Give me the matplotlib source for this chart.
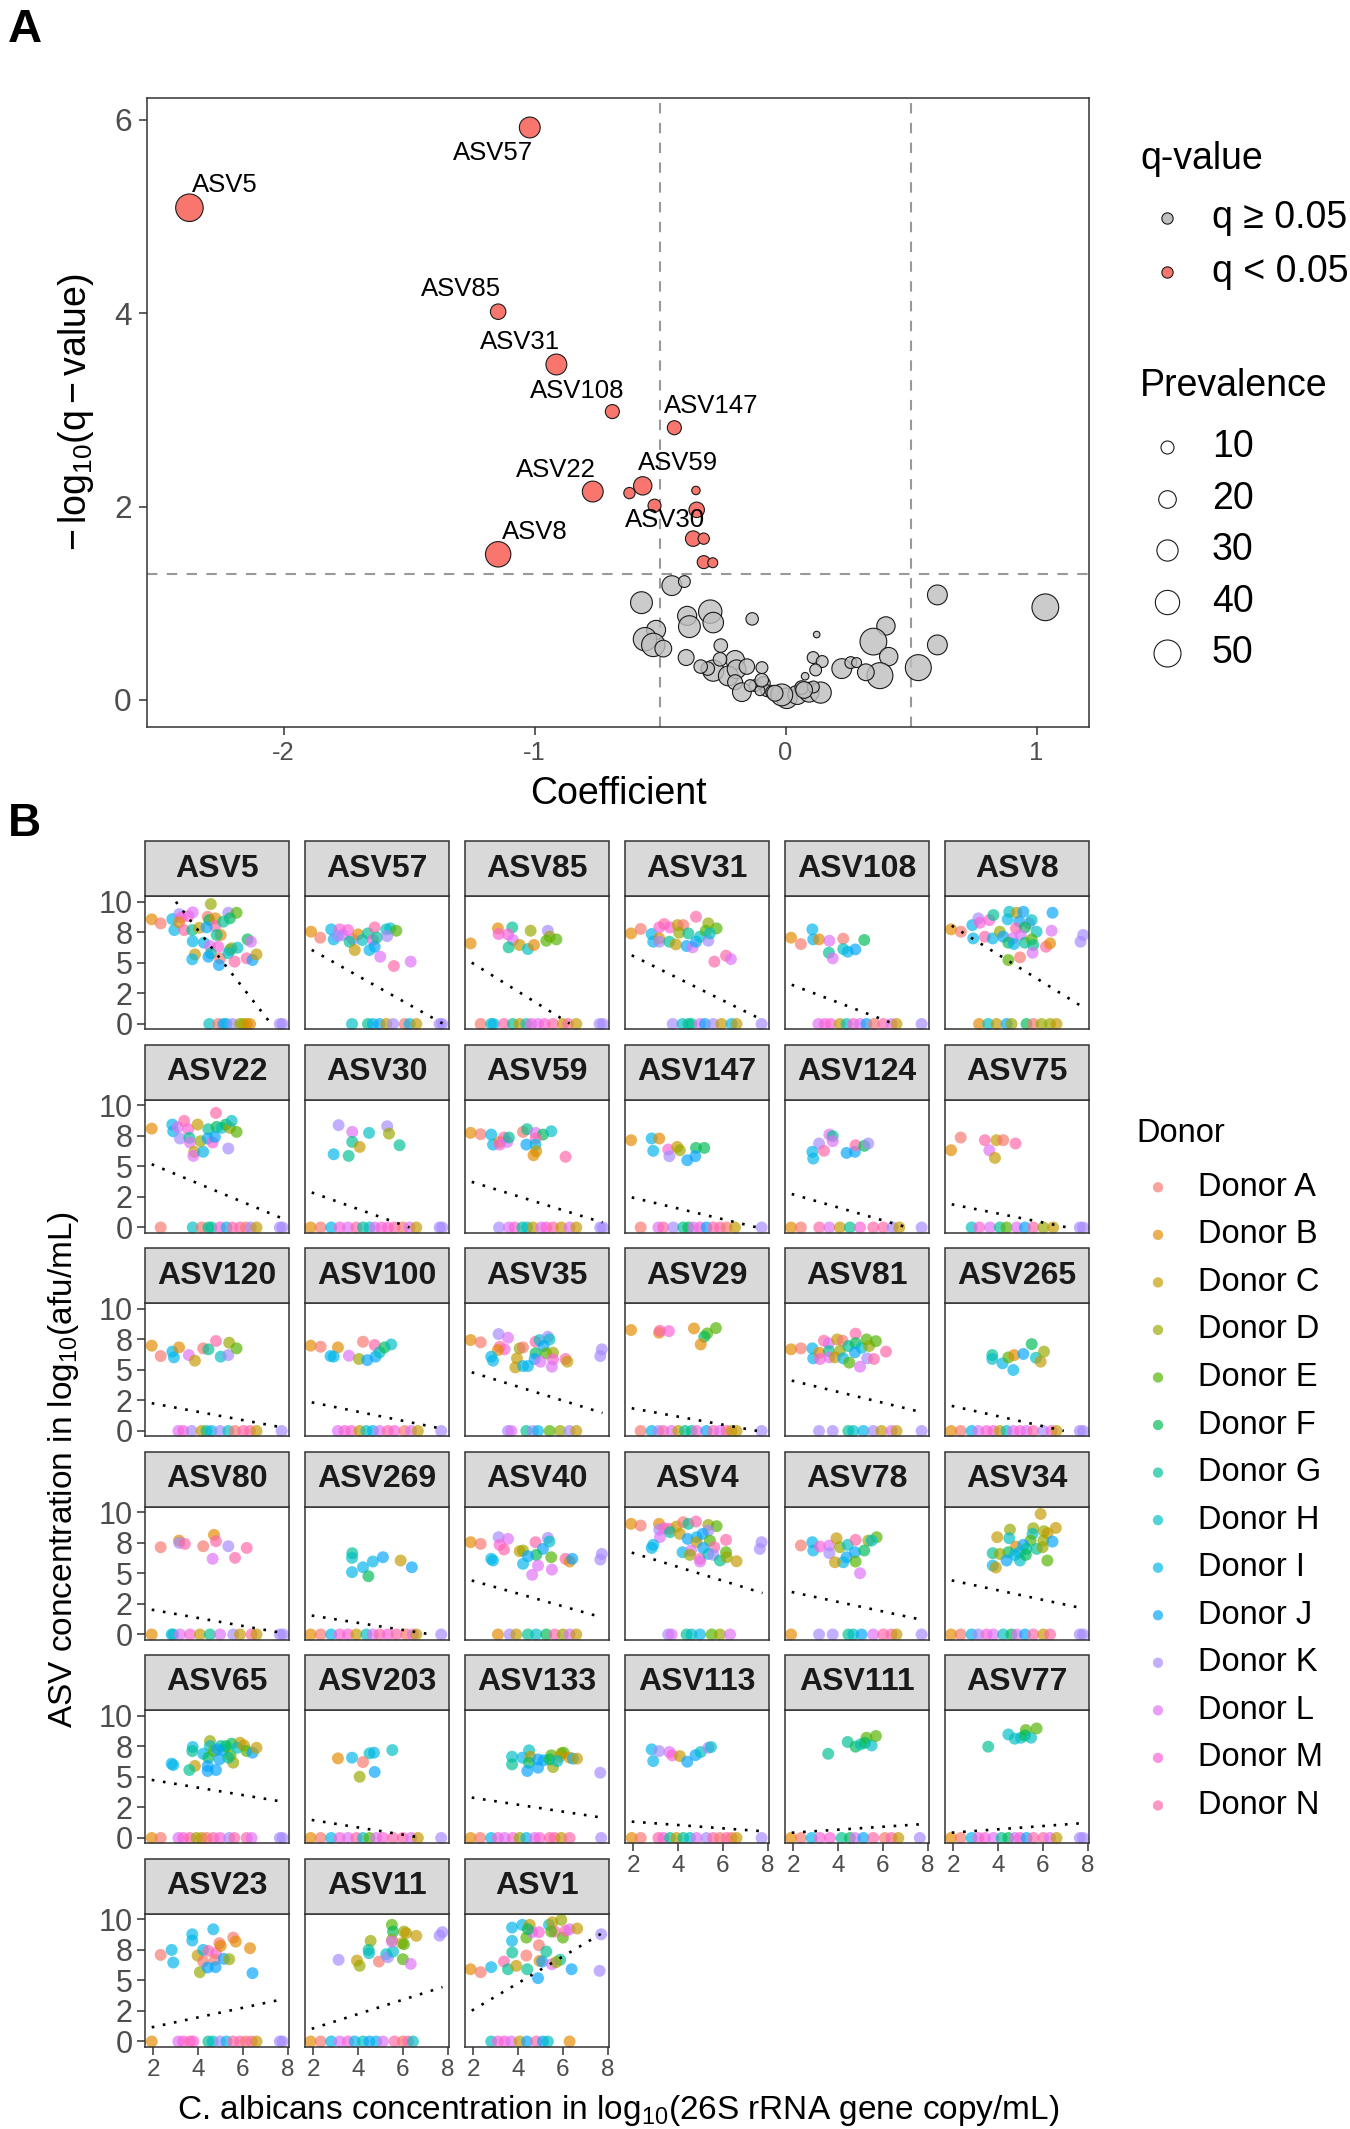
import numpy as np
import matplotlib
matplotlib.use('Agg')
import matplotlib.pyplot as plt
from matplotlib.patches import Rectangle

plt.rcParams['font.family'] = ['Liberation Sans', 'DejaVu Sans']
plt.rcParams['mathtext.fontset'] = 'custom'
plt.rcParams['mathtext.rm'] = 'Liberation Sans'
plt.rcParams['mathtext.it'] = 'Liberation Sans:italic'
plt.rcParams['mathtext.bf'] = 'Liberation Sans:bold'
plt.rcParams['mathtext.default'] = 'regular'

# ---------------- panel A data ----------------
sig_coef = [-2.375, -1.019, -1.145, -0.913, -0.690, -0.443, -0.768, -0.569, -0.622,
            -0.522, -0.357, -0.354, -0.368, -0.326, -0.326, -0.290, -1.145]
sig_logq = [5.09, 5.92, 4.015, 3.469, 2.982, 2.815, 2.155, 2.214, 2.139,
            2.009, 2.166, 1.966, 1.668, 1.668, 1.425, 1.419, 1.506]
sig_prev = [52, 29, 15, 29, 12, 12, 29, 22, 7, 10, 3, 15, 15, 7, 10, 5, 44]

ns_coef = [-0.453, -0.403, -0.574, -0.392, -0.300, -0.383, -0.288, -0.133, -0.516, -0.560,
           -0.527, -0.487, -0.396, -0.258, 0.124, 0.400, 0.350, 0.411, 0.605, 0.605,
           0.529, 1.035, 0.376, 0.320, 0.224, 0.260, 0.110, 0.146, 0.120, 0.078,
           -0.094, -0.201, -0.288, -0.228, -0.195, -0.310, -0.201, -0.174, -0.121, -0.088,
           -0.075, -0.052, 0.005, 0.047, 0.094, 0.140, 0.064, 0.111, -0.102, -0.141,
           -0.261, -0.338, -0.154, -0.015, -0.042, 0.074, -0.095, 0.283]
ns_logq = [1.182, 1.224, 1.006, 0.869, 0.913, 0.758, 0.800, 0.838, 0.724, 0.628,
           0.569, 0.531, 0.438, 0.562, 0.676, 0.765, 0.603, 0.448, 1.086, 0.569,
           0.334, 0.958, 0.251, 0.286, 0.324, 0.386, 0.438, 0.397, 0.310, 0.245,
           0.334, 0.414, 0.303, 0.248, 0.317, 0.324, 0.183, 0.080, 0.148, 0.172,
           0.096, 0.080, 0.017, 0.052, 0.080, 0.076, 0.128, 0.134, 0.096, 0.148,
           0.420, 0.345, 0.345, 0.052, 0.069, 0.103, 0.204, 0.386]
ns_prev = [26, 8, 32, 24, 37, 32, 28, 9, 24, 37,
           37, 18, 16, 11, 1, 22, 49, 22, 26, 26,
           46, 49, 46, 18, 26, 8, 8, 8, 8, 2,
           8, 23, 30, 26, 23, 11, 14, 23, 8, 11,
           8, 11, 28, 24, 26, 30, 11, 8, 5, 8,
           11, 11, 15, 32, 16, 18, 11, 5]

label_names = ['ASV5', 'ASV57', 'ASV85', 'ASV31', 'ASV108', 'ASV147', 'ASV22', 'ASV59', 'ASV30', 'ASV8']
label_x = [-2.235, -1.165, -1.293, -1.059, -0.832, -0.298, -0.913, -0.430, -0.480, -1.000]
label_y = [5.33, 5.66, 4.25, 3.70, 3.19, 3.04, 2.38, 2.45, 1.86, 1.74]

prev_breaks = [10, 20, 30, 40, 50]

# ---------------- panel B data ----------------
donors = list('ABCDEFGHIJKLMN')
donor_colors = ['#F8766D', '#E38900', '#C49A00', '#99A800', '#53B400', '#00BC56', '#00C094',
                '#00BFC4', '#00B6EB', '#06A4FF', '#A58AFF', '#DF70F8', '#FB61D7', '#FF66A8']

panel_order = ['ASV5', 'ASV57', 'ASV85', 'ASV31', 'ASV108', 'ASV8',
               'ASV22', 'ASV30', 'ASV59', 'ASV147', 'ASV124', 'ASV75',
               'ASV120', 'ASV100', 'ASV35', 'ASV29', 'ASV81', 'ASV265',
               'ASV80', 'ASV269', 'ASV40', 'ASV4', 'ASV78', 'ASV34',
               'ASV65', 'ASV203', 'ASV133', 'ASV113', 'ASV111', 'ASV77',
               'ASV23', 'ASV11', 'ASV1']
fit_intercept = [17.07, 8.05, 7.22, 7.37, 4.56, 10.24,
                 6.64, 4.13, 4.83, 3.31, 3.76, 2.60,
                 2.93, 3.06, 5.90, 2.50, 4.98, 2.84,
                 2.66, 2.11, 5.42, 7.79, 4.23, 5.18,
                 5.34, 2.05, 3.85, 1.60, 0.20, 0.18,
                 0.40, -0.09, 0.42]
fit_slope = [-2.35, -1.03, -1.14, -0.907, -0.70, -1.138,
             -0.76, -0.655, -0.569, -0.439, -0.53, -0.365,
             -0.34, -0.371, -0.569, -0.331, -0.445, -0.408,
             -0.327, -0.29, -0.519, -0.566, -0.391, -0.391,
             -0.305, -0.297, -0.282, -0.135, 0.12, 0.133,
             0.393, 0.584, 1.089]

asv5_pts = [(1.93, 8.56, 'B'), (2.33, 8.23, 'A'), (2.85, 8.58, 'I'), (2.94, 7.68, 'I'), (3.16, 8.99, 'K'),
            (3.26, 8.72, 'M'), (3.56, 8.83, 'M'), (3.76, 9.13, 'L'), (3.15, 8.31, 'B'), (3.38, 7.68, 'N'),
            (3.74, 7.68, 'G'), (4.05, 7.87, 'C'), (3.76, 6.76, 'I'), (4.26, 6.65, 'I'), (3.86, 5.69, 'C'),
            (3.74, 5.29, 'I'), (4.57, 9.81, 'D'), (4.43, 8.77, 'A'), (4.50, 8.50, 'F'), (4.77, 8.64, 'B'),
            (4.77, 8.01, 'N'), (4.38, 7.90, 'J'), (5.01, 7.28, 'B'), (4.83, 7.28, 'G'), (4.53, 6.38, 'L'),
            (4.90, 6.32, 'M'), (4.57, 5.78, 'G'), (4.46, 5.50, 'J'), (4.98, 5.37, 'A'), (4.93, 4.82, 'J'),
            (5.35, 9.10, 'K'), (5.72, 9.10, 'E'), (5.42, 8.64, 'F'), (5.13, 8.37, 'G'), (5.42, 6.05, 'G'),
            (5.50, 6.19, 'D'), (5.76, 6.24, 'H'), (5.35, 5.78, 'H'), (5.63, 5.10, 'N'), (6.21, 6.92, 'F'),
            (6.36, 6.73, 'L'), (6.17, 5.37, 'N'), (6.43, 5.23, 'J'), (6.61, 5.69, 'C')]
asv5_zero = [(4.50, 'H'), (4.90, 'A'), (5.13, 'J'), (5.27, 'I'), (5.54, 'K'), (5.87, 'D'),
             (6.02, 'D'), (6.17, 'C'), (6.32, 'B'), (7.65, 'K'), (7.77, 'K')]

asv57_pts = [(1.90, 7.55, 'B'), (2.31, 7.06, 'A'), (2.80, 7.74, 'I'), (2.91, 6.92, 'I'), (3.18, 7.74, 'M'),
             (3.55, 7.68, 'M'), (3.32, 7.28, 'L'), (3.10, 7.19, 'K'), (3.77, 6.92, 'L'), (3.62, 6.73, 'G'),
             (3.85, 6.05, 'C'), (4.00, 7.33, 'B'), (4.19, 6.87, 'H'), (4.44, 7.41, 'G'), (4.74, 7.90, 'N'),
             (4.66, 6.87, 'M'), (4.74, 6.32, 'J'), (4.99, 5.50, 'L'), (4.84, 7.08, 'G'), (5.26, 7.74, 'H'),
             (5.44, 7.82, 'H'), (5.71, 7.63, 'E'), (5.30, 7.19, 'K'), (4.51, 6.05, 'I'), (5.60, 4.74, 'N'),
             (6.35, 5.10, 'L')]
asv57_zero = [(3.73, 'H'), (4.44, 'G'), (4.66, 'I'), (4.96, 'J'), (5.26, 'C'), (5.56, 'K'),
              (6.08, 'A'), (6.30, 'I'), (6.60, 'C'), (7.64, 'K'), (7.76, 'K')]

asv85_pts = [(1.88, 6.59, 'B'), (3.10, 7.82, 'B'), (3.74, 7.90, 'G'), (3.13, 7.36, 'M'), (3.55, 7.33, 'M'),
             (3.77, 6.87, 'L'), (3.58, 6.27, 'G'), (4.07, 6.46, 'C'), (4.44, 6.13, 'H'), (4.71, 6.46, 'B'),
             (4.56, 7.63, 'D'), (5.33, 7.63, 'K'), (5.41, 7.14, 'D'), (5.26, 6.81, 'E'), (5.71, 6.92, 'E')]
asv85_zero = [(2.33, 'A'), (2.80, 'H'), (2.91, 'I'), (3.37, 'N'), (3.77, 'G'), (4.07, 'C'), (4.37, 'H'),
              (4.59, 'M'), (4.89, 'L'), (5.18, 'M'), (5.56, 'N'), (6.00, 'C'), (6.23, 'N'), (6.60, 'C'),
              (7.64, 'K'), (7.79, 'K')]

asv31_pts = [(1.90, 7.41, 'B'), (2.33, 7.77, 'A'), (2.82, 7.36, 'I'), (2.89, 6.73, 'I'), (3.16, 7.90, 'M'),
             (3.38, 8.17, 'N'), (3.64, 7.90, 'M'), (3.16, 7.00, 'B'), (3.16, 6.73, 'K'), (3.61, 6.73, 'G'),
             (3.90, 6.51, 'C'), (3.98, 8.09, 'C'), (4.23, 8.09, 'A'), (4.05, 7.47, 'D'), (4.46, 7.41, 'G'),
             (4.80, 8.77, 'N'), (4.38, 6.38, 'J'), (4.65, 6.27, 'L'), (4.80, 6.73, 'J'), (4.98, 7.14, 'H'),
             (5.35, 8.23, 'D'), (5.24, 7.63, 'E'), (5.72, 7.82, 'E'), (5.35, 6.81, 'K'), (5.42, 7.41, 'H'),
             (5.62, 5.10, 'N'), (6.14, 5.59, 'N'), (6.36, 5.31, 'L')]
asv31_zero = [(3.76, 'K'), (4.20, 'H'), (4.46, 'G'), (4.60, 'G'), (4.98, 'L'), (5.20, 'J'),
              (5.57, 'K'), (5.94, 'C'), (6.39, 'I'), (6.61, 'C'), (7.73, 'K')]

asv108_pts = [(1.90, 7.06, 'B'), (2.34, 6.54, 'A'), (2.85, 7.74, 'I'), (2.89, 6.92, 'I'), (3.15, 6.92, 'B'),
              (3.61, 6.81, 'L'), (4.23, 6.98, 'A'), (5.17, 6.87, 'F'), (3.59, 5.83, 'G'), (3.76, 5.37, 'L'),
              (4.23, 6.13, 'H'), (4.43, 5.91, 'I'), (4.77, 6.10, 'J')]
asv108_zero = [(3.12, 'L'), (3.41, 'M'), (3.67, 'M'), (4.08, 'C'), (4.38, 'H'), (4.68, 'M'), (4.98, 'L'),
               (5.27, 'J'), (5.60, 'A'), (6.02, 'N'), (6.39, 'L'), (6.61, 'C'), (7.73, 'K')]

asv8_pts = [(1.90, 7.74, 'B'), (2.34, 7.55, 'A'), (2.85, 8.09, 'I'), (2.89, 7.00, 'I'), (3.12, 8.64, 'K'),
            (3.19, 8.28, 'M'), (3.61, 8.50, 'M'), (3.41, 7.14, 'N'), (3.76, 7.00, 'I'), (3.79, 8.91, 'G'),
            (4.08, 7.55, 'D'), (4.23, 7.14, 'J'), (4.43, 8.56, 'I'), (4.50, 9.18, 'H'), (4.83, 9.10, 'C'),
            (5.13, 9.18, 'J'), (4.95, 8.37, 'J'), (5.39, 8.23, 'K'), (5.50, 8.50, 'H'), (4.80, 7.82, 'N'),
            (5.20, 7.90, 'F'), (5.72, 7.55, 'H'), (4.65, 7.00, 'L'), (5.01, 7.28, 'L'), (4.46, 6.65, 'F'),
            (4.71, 6.54, 'I'), (5.20, 6.65, 'G'), (5.50, 6.92, 'E'), (5.57, 6.46, 'G'), (5.54, 5.83, 'L'),
            (6.14, 6.32, 'N'), (6.32, 6.59, 'B'), (6.43, 9.10, 'J'), (6.39, 7.63, 'L'), (4.46, 5.23, 'E'),
            (4.98, 5.45, 'A'), (7.80, 7.28, 'K'), (7.68, 6.73, 'K')]
asv8_zero = [(3.15, 'B'), (3.56, 'H'), (3.93, 'C'), (4.38, 'J'), (4.60, 'D'), (5.27, 'F'), (5.57, 'A'),
             (5.94, 'D'), (6.32, 'D'), (6.61, 'C')]

asv22_pts = [(1.93, 8.09, 'B'), (2.85, 8.42, 'I'), (2.89, 7.87, 'I'), (3.09, 8.20, 'L'), (3.38, 8.72, 'N'),
             (3.56, 8.04, 'M'), (3.19, 7.28, 'K'), (3.61, 7.33, 'G'), (3.64, 6.95, 'L'), (3.83, 6.19, 'C'),
             (3.79, 5.86, 'L'), (3.98, 8.42, 'C'), (4.23, 6.19, 'I'), (4.11, 7.06, 'D'), (4.46, 8.04, 'G'),
             (4.43, 7.28, 'J'), (4.65, 6.95, 'M'), (4.80, 9.37, 'N'), (4.83, 8.23, 'F'), (5.05, 8.15, 'H'),
             (5.24, 8.42, 'F'), (4.75, 7.41, 'J'), (5.42, 8.15, 'D'), (5.50, 8.72, 'H'), (5.72, 7.82, 'E'),
             (5.35, 6.46, 'K')]
asv22_zero = [(2.33, 'A'), (3.76, 'H'), (4.16, 'A'), (4.46, 'G'), (4.60, 'G'), (4.98, 'M'), (5.27, 'I'),
              (5.54, 'N'), (5.87, 'N'), (6.14, 'A'), (6.35, 'K'), (6.61, 'C'), (7.65, 'K'), (7.77, 'K')]

asv30_pts = [(3.13, 8.37, 'K'), (3.74, 7.82, 'L'), (4.49, 7.74, 'H'), (3.74, 7.00, 'G'), (4.07, 6.59, 'C'),
             (2.91, 5.99, 'I'), (3.58, 5.86, 'G'), (5.30, 8.28, 'K'), (5.38, 7.68, 'D'), (5.85, 6.73, 'G')]
asv30_zero = [(1.88, 'B'), (2.33, 'A'), (2.80, 'I'), (3.18, 'M'), (3.55, 'L'), (3.92, 'N'), (4.22, 'G'),
              (4.51, 'H'), (4.74, 'L'), (5.04, 'M'), (5.33, 'M'), (5.63, 'N'), (6.00, 'A'), (6.30, 'L'),
              (6.60, 'C'), (7.64, 'K'), (7.76, 'K')]

asv59_pts = [(1.88, 7.74, 'B'), (2.33, 7.63, 'A'), (2.80, 7.60, 'I'), (2.88, 6.78, 'I'), (3.18, 7.00, 'B'),
             (3.37, 7.36, 'N'), (3.18, 6.78, 'M'), (3.52, 7.00, 'L'), (3.59, 7.36, 'G'), (4.22, 7.82, 'A'),
             (4.40, 8.04, 'G'), (4.78, 7.74, 'L'), (5.11, 7.60, 'F'), (5.48, 7.87, 'H'), (4.78, 7.28, 'N'),
             (4.37, 6.78, 'J'), (4.78, 6.78, 'I'), (4.81, 6.24, 'C'), (4.69, 5.91, 'B'), (6.12, 5.78, 'N')]
asv59_zero = [(3.15, 'K'), (3.59, 'L'), (3.85, 'M'), (4.19, 'G'), (4.40, 'H'), (4.66, 'C'), (5.04, 'L'),
              (5.26, 'M'), (5.56, 'N'), (5.93, 'C'), (6.30, 'L'), (6.60, 'C'), (7.67, 'K'), (7.79, 'K')]

asv147_pts = [(1.90, 7.14, 'B'), (2.82, 7.28, 'I'), (3.16, 7.28, 'B'), (2.89, 6.27, 'I'), (3.56, 6.38, 'M'),
              (3.61, 5.83, 'K'), (3.96, 6.59, 'C'), (4.08, 6.32, 'D'), (4.80, 6.51, 'F'), (5.17, 6.51, 'F'),
              (4.41, 5.50, 'J'), (4.77, 5.83, 'J')]
asv147_zero = [(2.33, 'A'), (3.12, 'L'), (3.34, 'N'), (3.79, 'K'), (4.23, 'G'), (4.46, 'F'), (4.68, 'L'),
               (4.98, 'M'), (5.27, 'J'), (5.57, 'N'), (5.87, 'N'), (6.17, 'A'), (6.54, 'C'), (7.73, 'K')]

asv124_pts = [(3.15, 6.87, 'K'), (3.61, 7.60, 'L'), (3.76, 7.47, 'G'), (3.76, 7.06, 'L'), (2.85, 6.19, 'I'),
              (2.89, 5.64, 'I'), (3.37, 6.27, 'N'), (4.38, 6.10, 'J'), (4.75, 6.19, 'J'), (4.78, 6.73, 'N'),
              (5.17, 6.68, 'F'), (5.35, 6.87, 'K')]
asv124_zero = [(1.90, 'B'), (2.34, 'A'), (3.16, 'N'), (3.61, 'L'), (4.08, 'C'), (4.53, 'G'), (4.98, 'M'),
               (5.57, 'N'), (6.02, 'N'), (6.43, 'K'), (6.73, 'C'), (7.73, 'K')]

asv75_pts = [(1.90, 6.32, 'B'), (2.33, 7.36, 'A'), (3.41, 7.14, 'N'), (3.93, 7.14, 'C'), (4.23, 7.14, 'A'),
             (3.61, 6.32, 'L'), (3.86, 5.69, 'C'), (4.78, 6.87, 'N')]
asv75_zero = [(2.82, 'H'), (3.16, 'M'), (3.64, 'L'), (4.08, 'G'), (4.38, 'E'), (4.83, 'L'), (5.20, 'J'),
              (5.57, 'N'), (6.02, 'D'), (6.46, 'C'), (7.65, 'K'), (7.80, 'K')]

asv120_pts = [(1.93, 6.98, 'B'), (2.33, 6.13, 'A'), (2.85, 6.49, 'I'), (2.92, 6.02, 'I'), (3.15, 6.84, 'B'),
              (3.59, 6.21, 'L'), (3.86, 5.75, 'C'), (4.23, 6.76, 'A'), (4.46, 6.68, 'G'), (4.80, 7.36, 'N'),
              (5.01, 6.08, 'H'), (5.35, 6.21, 'K'), (5.39, 7.22, 'D'), (5.72, 6.76, 'E')]
asv120_zero = [(3.12, 'L'), (3.34, 'M'), (3.71, 'K'), (4.16, 'C'), (4.38, 'G'), (4.60, 'I'), (4.98, 'K'),
               (5.35, 'H'), (5.65, 'A'), (6.02, 'N'), (6.32, 'N'), (6.61, 'C'), (7.73, 'K')]

asv100_pts = [(1.88, 6.98, 'B'), (2.33, 6.89, 'A'), (3.10, 6.84, 'B'), (2.77, 6.13, 'I'), (2.91, 6.08, 'I'),
              (3.59, 6.16, 'L'), (4.04, 5.89, 'D'), (4.41, 5.80, 'J'), (4.22, 7.30, 'A'), (4.74, 7.03, 'N'),
              (4.78, 6.08, 'J'), (4.96, 6.43, 'H'), (5.18, 6.84, 'F'), (5.48, 7.08, 'H')]
asv100_zero = [(3.10, 'L'), (3.40, 'M'), (3.70, 'M'), (4.07, 'C'), (4.37, 'H'), (4.66, 'I'), (4.96, 'L'),
               (5.33, 'N'), (5.63, 'M'), (6.08, 'A'), (6.37, 'L'), (6.67, 'C'), (7.71, 'K')]

asv35_pts = [(1.88, 7.44, 'B'), (2.33, 7.25, 'A'), (3.13, 7.93, 'K'), (3.55, 7.63, 'L'), (3.18, 6.89, 'N'),
             (3.40, 6.68, 'M'), (3.10, 6.62, 'B'), (2.80, 6.08, 'I'), (2.88, 5.75, 'I'), (4.07, 6.76, 'D'),
             (4.22, 6.84, 'A'), (3.95, 5.94, 'C'), (3.88, 5.20, 'C'), (4.22, 5.31, 'I'), (4.44, 5.31, 'I'),
             (4.78, 7.30, 'N'), (4.96, 7.44, 'H'), (5.33, 7.71, 'K'), (5.40, 7.49, 'H'), (5.14, 6.95, 'J'),
             (4.78, 6.35, 'F'), (5.26, 6.35, 'E'), (5.56, 6.40, 'D'), (4.74, 5.89, 'J'), (5.00, 5.67, 'L'),
             (5.56, 5.86, 'M'), (5.51, 5.26, 'L'), (6.12, 5.89, 'N'), (6.20, 5.67, 'C'), (7.74, 6.68, 'K'),
             (7.67, 6.13, 'K')]
asv35_zero = [(3.55, 'K'), (3.70, 'L'), (4.37, 'G'), (4.66, 'K'), (4.89, 'I'), (5.41, 'E'), (5.88, 'D'),
              (6.30, 'K'), (6.60, 'C')]

asv29_pts = [(1.90, 8.26, 'B'), (3.15, 8.04, 'B'), (3.19, 8.20, 'N'), (3.59, 8.17, 'M'), (4.71, 8.39, 'B'),
             (5.30, 7.98, 'E'), (5.17, 7.71, 'F'), (5.69, 8.42, 'E'), (5.01, 7.08, 'B')]
asv29_zero = [(2.33, 'A'), (2.82, 'I'), (3.12, 'K'), (3.34, 'N'), (3.71, 'L'), (4.01, 'C'), (4.31, 'G'),
              (4.60, 'G'), (4.83, 'M'), (5.27, 'J'), (5.57, 'N'), (5.87, 'L'), (6.17, 'N'), (6.39, 'C'),
              (6.61, 'C'), (7.73, 'K')]

asv81_pts = [(1.90, 6.68, 'B'), (2.34, 6.76, 'A'), (2.85, 6.76, 'I'), (2.89, 5.94, 'I'), (3.16, 6.40, 'B'),
             (3.37, 7.38, 'N'), (3.59, 7.17, 'L'), (3.59, 6.54, 'G'), (3.19, 5.89, 'M'), (3.61, 6.02, 'L'),
             (3.96, 7.49, 'C'), (4.20, 7.38, 'A'), (4.08, 6.54, 'D'), (3.86, 6.02, 'C'), (4.46, 6.95, 'G'),
             (4.78, 7.96, 'N'), (4.78, 7.19, 'F'), (5.05, 6.81, 'H'), (5.27, 7.49, 'E'), (5.39, 6.95, 'D'),
             (5.69, 7.35, 'E'), (4.75, 6.43, 'J'), (4.23, 5.94, 'I'), (4.50, 5.59, 'E'), (4.98, 5.26, 'L'),
             (5.30, 5.94, 'K'), (5.60, 5.89, 'N'), (6.14, 6.49, 'N')]
asv81_zero = [(3.15, 'K'), (3.76, 'K'), (4.46, 'G'), (4.68, 'H'), (5.13, 'I'), (5.57, 'K'), (5.94, 'C'),
              (6.39, 'L'), (6.61, 'C'), (7.73, 'K')]

asv265_pts = [(3.74, 6.21, 'G'), (3.74, 5.89, 'H'), (4.20, 5.53, 'I'), (4.46, 6.02, 'E'), (4.72, 6.21, 'B'),
              (4.68, 4.99, 'I'), (5.13, 6.30, 'J'), (5.50, 7.11, 'F'), (5.69, 5.99, 'H'), (5.90, 5.67, 'C'),
              (6.05, 6.49, 'D')]
asv265_zero = [(1.90, 'B'), (2.33, 'A'), (2.82, 'I'), (3.12, 'L'), (3.49, 'M'), (3.79, 'M'), (4.08, 'C'),
               (4.38, 'H'), (4.68, 'L'), (4.98, 'M'), (5.27, 'L'), (5.57, 'N'), (6.02, 'K'), (6.39, 'M'),
               (6.61, 'C'), (7.65, 'K'), (7.80, 'K')]

asv80_pts = [(2.33, 7.14, 'A'), (3.15, 7.68, 'B'), (3.16, 7.49, 'K'), (3.41, 7.41, 'N'), (4.23, 7.22, 'A'),
             (4.71, 8.15, 'B'), (4.80, 7.63, 'N'), (4.65, 6.19, 'L'), (5.35, 7.22, 'K'), (5.65, 6.27, 'N'),
             (6.17, 7.08, 'N')]
asv80_zero = [(1.93, 'B'), (2.82, 'I'), (2.89, 'H'), (3.19, 'L'), (3.64, 'M'), (4.08, 'C'), (4.53, 'G'),
              (4.98, 'L'), (5.57, 'K'), (5.87, 'C'), (6.39, 'N'), (6.61, 'C'), (7.65, 'K'), (7.80, 'K')]

asv269_pts = [(3.74, 6.65, 'G'), (3.73, 6.27, 'H'), (3.73, 5.10, 'I'), (4.22, 5.50, 'I'), (4.66, 5.97, 'I'),
              (5.11, 6.32, 'J'), (4.46, 4.77, 'F'), (5.90, 6.05, 'C'), (6.40, 5.50, 'J')]
asv269_zero = [(1.88, 'B'), (2.33, 'A'), (2.80, 'I'), (3.18, 'M'), (3.55, 'M'), (3.92, 'C'), (4.37, 'H'),
               (4.66, 'L'), (4.96, 'N'), (5.33, 'M'), (5.71, 'N'), (6.15, 'A'), (6.45, 'L'), (6.60, 'C'),
               (7.71, 'K')]

asv40_pts = [(1.88, 7.55, 'B'), (2.33, 7.41, 'A'), (3.13, 7.96, 'K'), (3.55, 7.82, 'L'), (3.18, 7.33, 'M'),
             (3.37, 6.95, 'N'), (2.80, 6.19, 'I'), (2.88, 6.05, 'I'), (4.07, 6.81, 'C'), (4.22, 6.87, 'D'),
             (4.78, 7.55, 'N'), (5.33, 7.90, 'K'), (5.40, 7.60, 'H'), (5.11, 7.00, 'J'), (4.81, 6.51, 'F'),
             (5.48, 6.32, 'E'), (4.44, 6.40, 'J'), (4.22, 5.78, 'I'), (4.89, 5.64, 'L'), (4.63, 4.88, 'L'),
             (5.51, 5.31, 'L'), (6.12, 6.19, 'N'), (6.30, 5.97, 'B'), (6.42, 6.19, 'J'), (7.74, 6.59, 'K'),
             (7.67, 6.13, 'K')]
asv40_zero = [(3.10, 'B'), (3.62, 'K'), (3.92, 'C'), (4.44, 'G'), (4.81, 'H'), (5.26, 'F'), (5.63, 'N'),
              (6.00, 'D'), (6.30, 'L'), (6.60, 'C')]

asv4_pts = [(1.90, 9.05, 'B'), (2.33, 8.91, 'A'), (3.15, 9.05, 'B'), (3.16, 8.58, 'K'), (3.38, 8.69, 'M'),
            (3.61, 8.64, 'N'), (3.19, 7.96, 'L'), (3.93, 8.83, 'C'), (4.23, 9.18, 'A'), (4.46, 9.05, 'G'),
            (4.80, 9.24, 'N'), (3.64, 8.37, 'G'), (4.08, 8.23, 'C'), (2.89, 7.33, 'I'), (2.82, 7.08, 'I'),
            (4.43, 7.82, 'J'), (4.83, 7.96, 'I'), (4.83, 7.55, 'C'), (5.35, 8.96, 'D'), (5.72, 8.86, 'E'),
            (5.35, 8.50, 'K'), (5.10, 8.23, 'J'), (5.42, 7.68, 'E'), (5.62, 7.14, 'N'), (6.14, 7.74, 'N'),
            (4.20, 6.73, 'I'), (4.58, 6.87, 'L'), (4.53, 6.51, 'D'), (5.12, 7.08, 'J'), (4.98, 6.19, 'N'),
            (4.98, 5.97, 'L'), (5.35, 6.59, 'H'), (5.57, 6.51, 'K'), (5.87, 6.05, 'G'), (6.14, 6.73, 'E'),
            (6.17, 6.32, 'D'), (6.61, 5.99, 'C'), (7.73, 7.55, 'K'), (7.65, 7.00, 'K')]
asv4_zero = [(3.56, 'K'), (3.71, 'L'), (4.38, 'G'), (4.60, 'H'), (4.98, 'I'), (5.50, 'E'), (5.87, 'D'),
             (6.32, 'L')]

asv78_pts = [(2.34, 7.28, 'A'), (2.85, 7.55, 'I'), (2.89, 6.87, 'I'), (3.19, 7.19, 'M'), (3.61, 7.28, 'L'),
             (3.61, 6.65, 'K'), (3.93, 7.87, 'C'), (4.08, 7.14, 'D'), (4.43, 7.33, 'H'), (4.78, 7.74, 'N'),
             (5.35, 7.68, 'D'), (5.72, 7.96, 'E'), (5.50, 7.68, 'H'), (4.75, 6.73, 'J'), (5.17, 6.87, 'F'),
             (4.38, 6.32, 'J'), (4.23, 5.91, 'I'), (3.86, 5.91, 'C'), (4.78, 5.97, 'E'), (4.98, 5.01, 'L')]
asv78_zero = [(1.90, 'B'), (3.15, 'K'), (3.76, 'K'), (4.46, 'G'), (4.68, 'H'), (5.05, 'J'), (5.57, 'L'),
              (6.02, 'N'), (6.39, 'N'), (6.61, 'C'), (7.73, 'K')]

asv34_pts = [(5.90, 9.86, 'C'), (3.96, 7.96, 'C'), (4.53, 8.58, 'D'), (4.50, 7.87, 'H'), (5.57, 8.69, 'D'),
             (6.05, 8.45, 'D'), (6.58, 8.72, 'C'), (6.21, 8.28, 'C'), (5.54, 8.23, 'H'), (5.45, 7.68, 'E'),
             (6.02, 7.68, 'D'), (6.43, 7.60, 'J'), (4.80, 7.19, 'B'), (5.13, 7.33, 'J'), (5.27, 7.00, 'G'),
             (5.72, 7.00, 'G'), (5.99, 7.14, 'D'), (4.95, 6.73, 'I'), (4.46, 6.73, 'F'), (3.76, 6.65, 'G'),
             (4.08, 6.59, 'D'), (4.38, 6.05, 'J'), (4.75, 6.51, 'I'), (4.98, 6.05, 'H'), (5.24, 6.51, 'F'),
             (6.20, 6.05, 'E'), (3.76, 5.64, 'I'), (3.90, 5.48, 'C')]
asv34_zero = [(1.90, 'B'), (2.33, 'A'), (2.82, 'I'), (3.12, 'K'), (3.49, 'M'), (3.79, 'L'), (4.23, 'H'),
              (4.60, 'F'), (4.83, 'L'), (5.20, 'J'), (5.57, 'N'), (6.02, 'C'), (6.32, 'N'), (7.65, 'K'),
              (7.80, 'K')]

asv65_pts = [(2.82, 6.08, 'I'), (2.89, 5.97, 'I'), (3.76, 7.44, 'I'), (3.74, 7.11, 'G'), (3.86, 5.89, 'C'),
             (3.61, 5.56, 'G'), (4.23, 6.89, 'I'), (4.53, 7.93, 'D'), (4.53, 7.52, 'H'), (4.46, 6.57, 'F'),
             (4.43, 5.89, 'J'), (4.43, 5.48, 'J'), (4.80, 5.56, 'J'), (4.71, 7.11, 'E'), (4.95, 6.43, 'J'),
             (5.13, 7.19, 'J'), (5.24, 7.52, 'F'), (5.50, 7.71, 'F'), (5.45, 6.76, 'E'), (5.57, 6.16, 'D'),
             (5.35, 6.57, 'G'), (5.87, 7.79, 'C'), (5.75, 7.38, 'H'), (6.05, 7.57, 'C'), (6.17, 7.11, 'E'),
             (6.43, 6.98, 'J'), (6.61, 7.38, 'C'), (5.01, 7.52, 'G'), (4.86, 7.25, 'J')]
asv65_zero = [(1.93, 'B'), (2.33, 'A'), (3.12, 'L'), (3.34, 'M'), (3.64, 'N'), (3.93, 'D'), (4.16, 'C'),
              (4.38, 'A'), (4.68, 'N'), (4.98, 'M'), (5.39, 'K'), (5.62, 'N'), (6.17, 'N'), (6.39, 'L'),
              (7.65, 'K'), (7.77, 'K')]

asv203_pts = [(3.10, 6.51, 'B'), (3.73, 6.57, 'I'), (4.51, 6.92, 'H'), (4.71, 6.98, 'I'), (5.53, 7.19, 'H'),
              (4.22, 6.21, 'A'), (4.74, 5.40, 'J'), (4.07, 5.01, 'D')]
asv203_zero = [(1.88, 'B'), (2.33, 'A'), (2.80, 'I'), (3.18, 'M'), (3.55, 'L'), (3.92, 'N'), (4.22, 'H'),
               (4.51, 'E'), (4.81, 'L'), (5.11, 'M'), (5.56, 'N'), (6.00, 'N'), (6.37, 'L'), (6.67, 'C'),
               (7.71, 'K')]

asv133_pts = [(3.73, 6.65, 'H'), (3.73, 6.02, 'G'), (4.19, 6.57, 'I'), (4.49, 7.17, 'H'), (4.55, 6.65, 'C'),
              (4.49, 6.16, 'F'), (4.41, 5.48, 'J'), (4.89, 5.75, 'J'), (4.89, 6.43, 'J'), (5.14, 6.35, 'J'),
              (5.56, 5.80, 'D'), (5.48, 6.76, 'E'), (5.41, 6.43, 'F'), (5.93, 6.92, 'D'), (6.03, 6.98, 'E'),
              (5.86, 6.65, 'C'), (6.30, 6.57, 'B'), (6.45, 6.49, 'I'), (6.63, 6.49, 'C'), (5.75, 6.29, 'H'),
              (7.67, 5.34, 'K')]
asv133_zero = [(1.88, 'B'), (2.31, 'A'), (2.80, 'I'), (3.10, 'M'), (3.40, 'L'), (3.77, 'M'), (4.07, 'D'),
               (4.37, 'I'), (4.74, 'L'), (4.96, 'M'), (5.41, 'N'), (5.63, 'N'), (5.93, 'C'), (6.30, 'N'),
               (7.71, 'K')]

asv113_pts = [(2.82, 7.25, 'I'), (2.89, 6.29, 'I'), (3.15, 7.11, 'K'), (3.61, 7.03, 'L'), (3.74, 6.76, 'M'),
              (4.08, 6.70, 'C'), (4.41, 6.24, 'J'), (4.78, 6.78, 'J'), (5.01, 7.03, 'H'), (5.35, 7.38, 'K'),
              (5.47, 7.44, 'H')]
asv113_zero = [(1.93, 'B'), (2.33, 'A'), (3.12, 'N'), (3.34, 'M'), (3.64, 'G'), (3.93, 'C'), (4.23, 'G'),
               (4.53, 'H'), (4.83, 'L'), (5.27, 'K'), (5.57, 'N'), (5.87, 'A'), (6.17, 'N'), (6.39, 'A'),
               (6.61, 'C'), (7.73, 'K')]

asv111_pts = [(3.56, 6.89, 'G'), (4.43, 7.85, 'G'), (4.78, 7.47, 'F'), (5.01, 7.66, 'H'), (5.27, 8.20, 'E'),
              (5.20, 7.79, 'F'), (5.50, 7.57, 'H'), (5.69, 8.34, 'E')]
asv111_zero = [(1.90, 'B'), (2.34, 'A'), (2.82, 'I'), (3.19, 'M'), (3.64, 'M'), (4.16, 'G'), (4.53, 'F'),
               (4.75, 'L'), (5.13, 'J'), (5.57, 'N'), (6.09, 'A'), (6.39, 'N'), (6.69, 'C'), (7.65, 'K')]

asv77_pts = [(3.56, 7.47, 'G'), (4.46, 8.47, 'H'), (4.75, 8.12, 'H'), (5.02, 8.20, 'H'), (5.24, 8.83, 'E'),
             (5.20, 8.39, 'F'), (5.47, 8.20, 'H'), (5.72, 8.96, 'E')]
asv77_zero = [(1.90, 'B'), (2.33, 'A'), (2.82, 'I'), (3.12, 'M'), (3.41, 'M'), (3.79, 'L'), (4.16, 'G'),
              (4.46, 'F'), (4.75, 'L'), (4.98, 'M'), (5.27, 'J'), (5.57, 'N'), (6.02, 'N'), (6.32, 'L'),
              (6.61, 'C'), (7.65, 'K'), (7.80, 'K')]

asv23_pts = [(2.33, 7.08, 'A'), (2.82, 7.49, 'I'), (2.89, 6.46, 'I'), (3.74, 8.77, 'I'), (3.74, 8.26, 'I'),
             (3.98, 7.03, 'C'), (4.08, 5.67, 'D'), (4.23, 6.54, 'A'), (4.23, 7.49, 'I'), (4.46, 7.41, 'N'),
             (4.68, 9.18, 'I'), (4.80, 7.22, 'M'), (4.75, 6.68, 'A'), (4.43, 6.05, 'J'), (4.78, 6.08, 'J'),
             (4.95, 8.04, 'A'), (5.01, 7.82, 'B'), (5.15, 6.76, 'J'), (5.39, 6.73, 'D'), (5.57, 8.50, 'A'),
             (5.68, 8.17, 'B'), (6.32, 7.63, 'B'), (6.43, 5.59, 'J')]
asv23_zero = [(1.93, 'B'), (3.12, 'L'), (3.34, 'M'), (3.64, 'N'), (3.79, 'M'), (4.46, 'G'), (4.65, 'H'),
              (4.98, 'K'), (5.27, 'I'), (5.57, 'N'), (5.87, 'N'), (6.14, 'A'), (6.39, 'N'), (6.61, 'C'),
              (7.65, 'K'), (7.77, 'K')]

asv11_pts = [(3.13, 6.68, 'K'), (3.95, 6.62, 'C'), (4.07, 6.19, 'D'), (4.56, 8.23, 'D'), (4.47, 7.49, 'G'),
             (4.49, 7.22, 'H'), (4.93, 6.54, 'A'), (5.26, 7.14, 'H'), (5.33, 6.89, 'K'), (5.56, 7.36, 'H'),
             (5.51, 9.54, 'E'), (5.56, 8.99, 'F'), (5.51, 8.31, 'D'), (5.96, 8.04, 'C'), (6.05, 8.99, 'D'),
             (6.15, 8.86, 'C'), (6.60, 8.64, 'C'), (6.05, 7.96, 'E'), (6.00, 6.73, 'E'), (6.35, 6.35, 'L'),
             (5.51, 8.17, 'L'), (7.64, 8.66, 'K'), (7.76, 8.94, 'K')]
asv11_zero = [(1.88, 'B'), (2.33, 'A'), (2.80, 'I'), (3.18, 'L'), (3.55, 'M'), (3.85, 'I'), (4.22, 'H'),
              (4.51, 'J'), (4.81, 'I'), (5.11, 'L'), (5.63, 'N'), (6.00, 'A'), (6.23, 'N'), (6.45, 'H')]

asv1_pts = [(1.88, 5.91, 'B'), (2.33, 5.67, 'A'), (2.80, 6.08, 'I'), (3.37, 6.54, 'N'), (3.55, 5.91, 'G'),
            (3.73, 9.32, 'I'), (3.73, 8.23, 'I'), (3.74, 7.28, 'G'), (3.92, 6.19, 'C'), (4.19, 9.54, 'I'),
            (4.37, 7.03, 'A'), (4.41, 5.91, 'G'), (4.37, 8.50, 'E'), (4.52, 9.54, 'C'), (4.63, 8.94, 'L'),
            (4.93, 8.94, 'M'), (4.93, 7.88, 'A'), (4.96, 6.59, 'B'), (5.08, 6.54, 'J'), (4.89, 5.18, 'J'),
            (5.26, 7.36, 'G'), (5.38, 9.54, 'H'), (5.53, 9.75, 'C'), (5.63, 8.99, 'N'), (5.48, 8.99, 'E'),
            (5.88, 6.68, 'G'), (5.51, 6.32, 'L'), (5.70, 6.49, 'D'), (5.93, 9.95, 'D'), (6.00, 8.50, 'E'),
            (6.12, 9.05, 'N'), (6.30, 9.18, 'L'), (6.64, 9.24, 'C'), (6.39, 5.91, 'J'), (7.71, 8.77, 'K'),
            (7.64, 5.78, 'K'), (4.44, 9.18, 'F')]
asv1_zero = [(2.80, 'H'), (3.10, 'M'), (3.40, 'M'), (3.70, 'L'), (4.07, 'C'), (4.40, 'J'), (4.81, 'N'),
             (5.11, 'J'), (5.33, 'H'), (6.30, 'B')]

panel_pts = {
    'ASV5': (asv5_pts, asv5_zero), 'ASV57': (asv57_pts, asv57_zero), 'ASV85': (asv85_pts, asv85_zero),
    'ASV31': (asv31_pts, asv31_zero), 'ASV108': (asv108_pts, asv108_zero), 'ASV8': (asv8_pts, asv8_zero),
    'ASV22': (asv22_pts, asv22_zero), 'ASV30': (asv30_pts, asv30_zero), 'ASV59': (asv59_pts, asv59_zero),
    'ASV147': (asv147_pts, asv147_zero), 'ASV124': (asv124_pts, asv124_zero), 'ASV75': (asv75_pts, asv75_zero),
    'ASV120': (asv120_pts, asv120_zero), 'ASV100': (asv100_pts, asv100_zero), 'ASV35': (asv35_pts, asv35_zero),
    'ASV29': (asv29_pts, asv29_zero), 'ASV81': (asv81_pts, asv81_zero), 'ASV265': (asv265_pts, asv265_zero),
    'ASV80': (asv80_pts, asv80_zero), 'ASV269': (asv269_pts, asv269_zero), 'ASV40': (asv40_pts, asv40_zero),
    'ASV4': (asv4_pts, asv4_zero), 'ASV78': (asv78_pts, asv78_zero), 'ASV34': (asv34_pts, asv34_zero),
    'ASV65': (asv65_pts, asv65_zero), 'ASV203': (asv203_pts, asv203_zero), 'ASV133': (asv133_pts, asv133_zero),
    'ASV113': (asv113_pts, asv113_zero), 'ASV111': (asv111_pts, asv111_zero), 'ASV77': (asv77_pts, asv77_zero),
    'ASV23': (asv23_pts, asv23_zero), 'ASV11': (asv11_pts, asv11_zero), 'ASV1': (asv1_pts, asv1_zero),
}

# ---------------- drawing ----------------
W, H = 1350, 2129
fig = plt.figure(figsize=(W / 100, H / 100), dpi=100)
fig.patch.set_facecolor('white')

TICK_GRAY = '#4D4D4D'
BORDER = '#333333'
PT_SIZE = 74
PT_ALPHA = 0.68


def prev_size(p):
    # ggplot-like area scale: diameter^2 (px) grows linearly with prevalence
    p = np.asarray(p, dtype=float)
    return (29 + 14 * p) / 1.929


def fig_axes(left, top, width, height):
    return fig.add_axes([left / W, 1 - (top + height) / H, width / W, height / H])


# overlay for free text / legends, in pixel coords
ov = fig.add_axes([0, 0, 1, 1], zorder=-1)
ov.set_xlim(0, W)
ov.set_ylim(H, 0)
ov.axis('off')

# ---- panel A ----
axA = fig_axes(147, 98, 942, 629)
for xv in (-0.5, 0.5):
    axA.axvline(xv, color='#999999', lw=1.5, ls=(0, (5, 4.5)), zorder=1)
axA.axhline(-np.log10(0.05), color='#999999', lw=1.5, ls=(0, (5, 4.5)), zorder=1)
axA.scatter(ns_coef, ns_logq, s=prev_size(ns_prev), facecolors=(0.75, 0.75, 0.75, 0.8),
            edgecolors='#1a1a1a', linewidths=0.8, zorder=2)
axA.scatter(sig_coef, sig_logq, s=prev_size(sig_prev), facecolors='#F8766D',
            edgecolors='#1a1a1a', linewidths=0.8, zorder=3)
for name, lx, ly in zip(label_names, label_x, label_y):
    axA.text(lx, ly, name, fontsize=18.5, ha='center', va='center', color='black', zorder=4)
axA.set_xlim(-2.544, 1.209)
axA.set_ylim(-0.28, 6.225)
axA.set_xticks([-2, -1, 0, 1])
axA.set_xticklabels(['-2', '-1', '0', '1'])
axA.set_yticks([0, 2, 4, 6])
axA.tick_params(axis='x', labelsize=18.4, colors=BORDER, labelcolor=TICK_GRAY, length=6, width=1.1, pad=4)
axA.tick_params(axis='y', labelsize=22.8, colors=BORDER, labelcolor=TICK_GRAY, length=6, width=1.1, pad=5)
for sp in axA.spines.values():
    sp.set_color(BORDER)
    sp.set_linewidth(1.1)

ov.text(24.5, 30, 'A', fontsize=34, fontweight='bold', ha='center', va='center')
ov.text(618, 794, 'Coefficient', fontsize=27, ha='center', va='center')
ov.text(76, 412, r'$-\,\mathrm{log}_{10}\mathrm{(q - value)}$', fontsize=27, ha='center', va='center',
        rotation=90)

# panel A legends
ov.text(1140, 159, 'q-value', fontsize=27, ha='left', va='center')
ov.scatter([1166.7], [218], s=66, facecolors=(0.75, 0.75, 0.75), edgecolors='#1a1a1a', linewidths=0.8)
ov.scatter([1166.7], [271.7], s=66, facecolors='#F8766D', edgecolors='#1a1a1a', linewidths=0.8)
ov.text(1211.7, 218, 'q \u2265 0.05', fontsize=27, ha='left', va='center')
ov.text(1211.7, 271.7, 'q < 0.05', fontsize=27, ha='left', va='center')
ov.text(1140, 386.4, 'Prevalence', fontsize=27, ha='left', va='center')
for k, pb in enumerate(prev_breaks):
    yy = 447.4 + 51.4 * k
    ov.scatter([1166.7], [yy], s=prev_size(pb), facecolors='white', edgecolors='#1a1a1a', linewidths=0.8)
    ov.text(1211.7, yy, str(pb), fontsize=27, ha='left', va='center')

# ---- panel B ----
col_of = dict(zip(donors, donor_colors))
xs_fit = np.linspace(1.93, 7.77, 120)
for i, name in enumerate(panel_order):
    r, c = divmod(i, 6)
    left = 145 + 160 * c
    top = 896 + 203.5 * r
    ax = fig_axes(left, top, 144, 133)
    pts, zeros = panel_pts[name]
    zx = [z[0] for z in zeros]
    zc = [col_of[z[1]] for z in zeros]
    ax.scatter(zx, np.zeros(len(zx)), s=PT_SIZE, c=zc, alpha=PT_ALPHA, edgecolors='none', zorder=2,
               clip_on=False)
    px = [p[0] for p in pts]
    py = [p[1] for p in pts]
    pc = [col_of[p[2]] for p in pts]
    ax.scatter(px, py, s=PT_SIZE, c=pc, alpha=PT_ALPHA, edgecolors='none', zorder=2, clip_on=False)
    yfit = fit_intercept[i] + fit_slope[i] * xs_fit
    yfit[(yfit < 0) | (yfit > 10)] = np.nan
    ax.plot(xs_fit, yfit, color='black', lw=1.9, ls=(0, (1, 3.3)), zorder=3)
    ax.set_xlim(1.63, 8.06)
    ax.set_ylim(-0.41, 10.47)
    for sp in ax.spines.values():
        sp.set_color(BORDER)
        sp.set_linewidth(1.1)
    ax.add_patch(Rectangle((0, 1), 1, 55 / 133, transform=ax.transAxes, clip_on=False,
                           facecolor='#D9D9D9', edgecolor=BORDER, linewidth=1.1, zorder=5))
    ax.text(0.5, 1 + 27.5 / 133, name, transform=ax.transAxes, ha='center', va='center',
            fontsize=23, fontweight='bold', color='#1a1a1a', zorder=6)
    if c == 0:
        ax.set_yticks([0, 2.5, 5, 7.5, 10])
        ax.set_yticklabels(['0', '2', '5', '8', '10'])
        ax.tick_params(axis='y', labelsize=22, colors=BORDER, labelcolor=TICK_GRAY, length=6,
                       width=1.1, pad=3)
    else:
        ax.set_yticks([])
    bottom_row = 5 if c < 3 else 4
    if r == bottom_row:
        ax.set_xticks([2, 4, 6, 8])
        ax.tick_params(axis='x', labelsize=17.5, colors=BORDER, labelcolor=TICK_GRAY, length=6,
                       width=1.1, pad=3)
    else:
        ax.set_xticks([])

ov.text(24.5, 824, 'B', fontsize=33, fontweight='bold', ha='center', va='center')
ov.text(618, 2110, 'C. albicans concentration in log$_{10}$(26S rRNA gene copy/mL)', fontsize=24,
        ha='center', va='center')
ov.text(64, 1470, 'ASV concentration in log$_{10}$(afu/mL)', fontsize=24, ha='center', va='center',
        rotation=90)

# donor legend
ov.text(1136, 1133, 'Donor', fontsize=23.5, ha='left', va='center')
for k, (d, col) in enumerate(zip(donors, donor_colors)):
    yy = 1187.3 + 47.55 * k
    ov.scatter([1158], [yy], s=55, c=[col], alpha=PT_ALPHA, edgecolors='none')
    ov.text(1198, yy, 'Donor ' + d, fontsize=23.5, ha='left', va='center')

fig.savefig('out.png', dpi=100, facecolor='white')
